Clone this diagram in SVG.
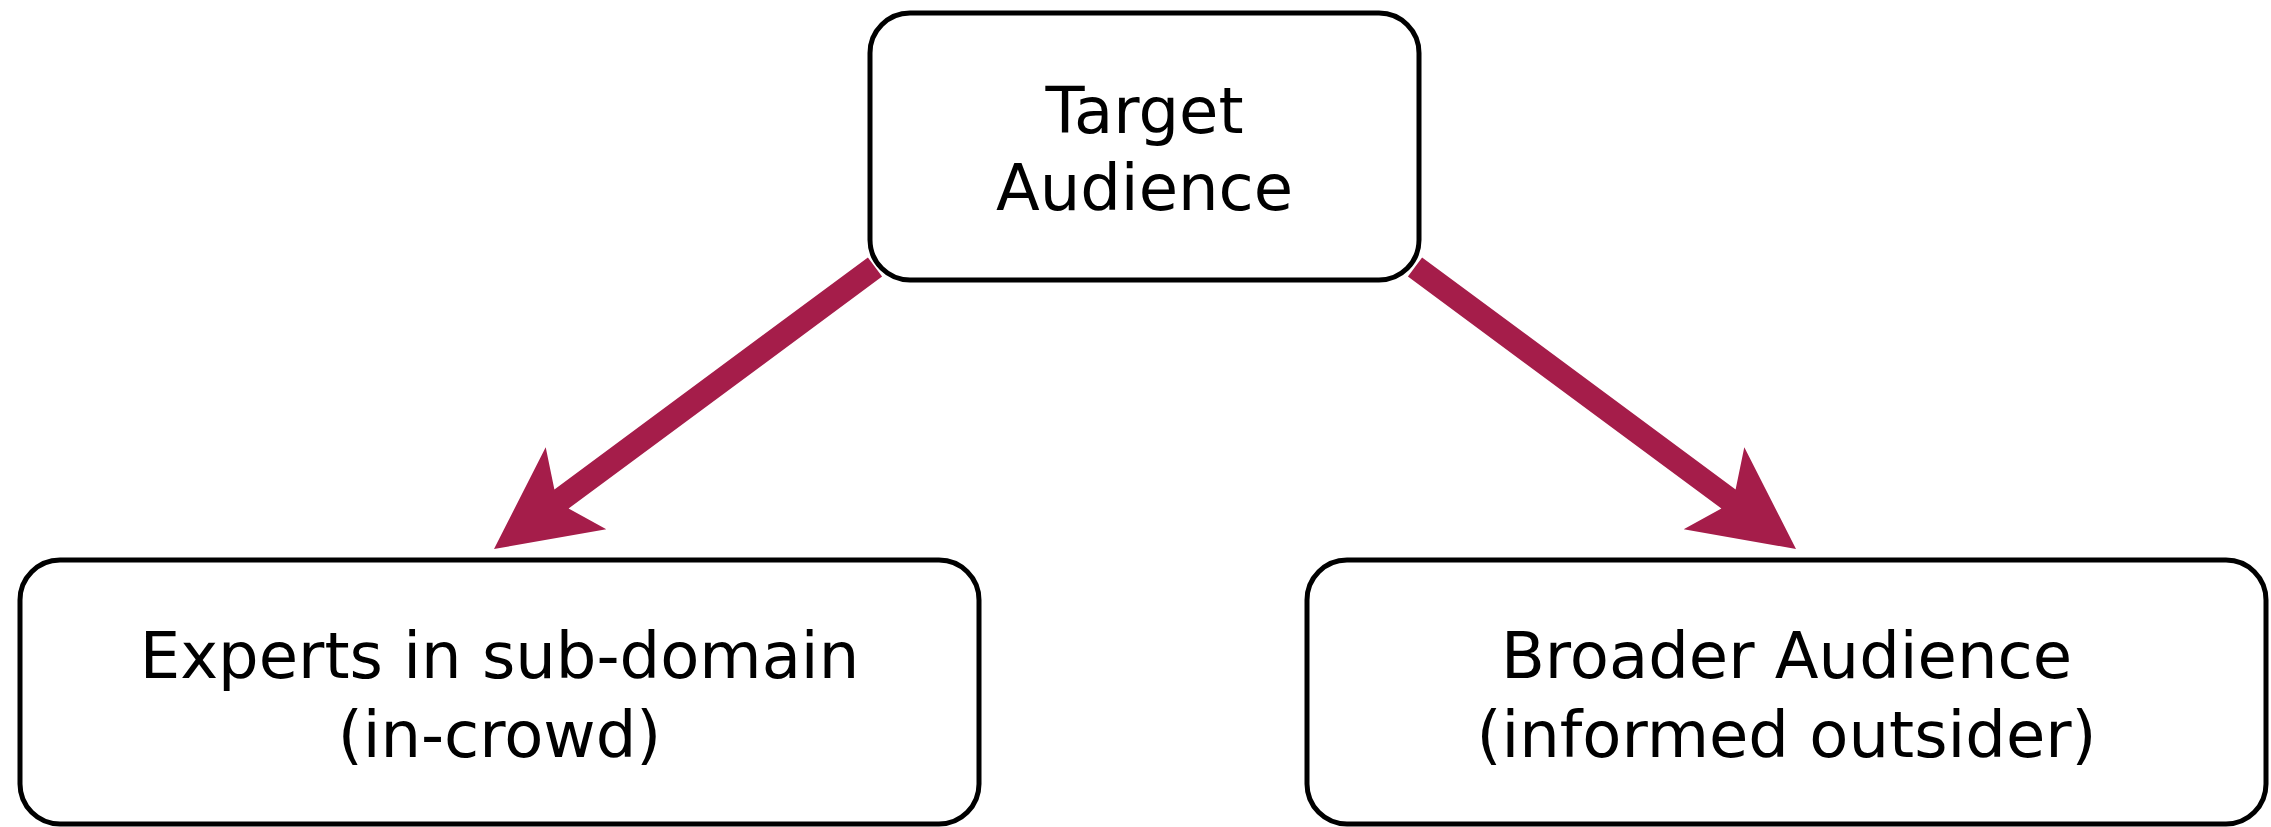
<svg xmlns="http://www.w3.org/2000/svg" width="2271" height="827" viewBox="0 0 2271 827">
  <style>
    .box { fill: #ffffff; stroke: #000000; stroke-width: 5; }
    .label { font-family: "DejaVu Sans", Verdana, sans-serif; font-size: 64px; fill: #000000; text-anchor: middle; }
    .arrow { fill: #a51d4a; stroke: none; }
  </style>
  <rect width="2271" height="827" fill="#ffffff"/>

  <!-- connectors: thick arrows from the top node down to each audience -->
  <g id="connectors">
    <polygon class="arrow" points="867.9,257.4 554.4,489.4 545.7,447.3 494,549 606.3,529.3 568.6,508.6 882.1,276.6"/>
    <polygon class="arrow" points="1422.1,257.4 1735.6,489.4 1744.3,447.3 1796,549 1683.7,529.3 1721.4,508.6 1407.9,276.6"/>
  </g>

  <g id="target-audience">
    <rect class="box" x="870" y="13" width="549" height="267" rx="40" ry="40"/>
    <text class="label" x="1144.5" y="133">Target</text>
    <text class="label" x="1144.5" y="210">Audience</text>
  </g>

  <g id="experts">
    <rect class="box" x="20" y="560" width="959" height="264" rx="40" ry="40"/>
    <text class="label" x="499.5" y="678">Experts in sub-domain</text>
    <text class="label" x="499.5" y="757">(in-crowd)</text>
  </g>

  <g id="broader-audience">
    <rect class="box" x="1307" y="560" width="959" height="264" rx="40" ry="40"/>
    <text class="label" x="1786.5" y="678">Broader Audience</text>
    <text class="label" x="1786.5" y="757">(informed outsider)</text>
  </g>
</svg>
